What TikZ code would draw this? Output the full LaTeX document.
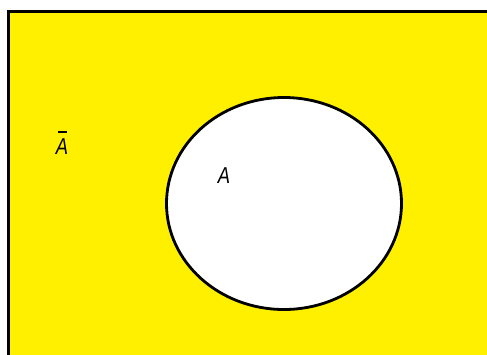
\documentclass[tikz,border=0pt]{standalone}
\usepackage{fontspec}
\setmainfont{Liberation Sans}
\definecolor{vennyellow}{RGB}{255,240,0}
\tikzset{
  lbl/.style={inner sep=0pt, font=\fontsize{23}{27}\selectfont\itshape, xscale=0.8},
}
\begin{document}
\begin{tikzpicture}[x=1pt,y=-1pt]
  \useasboundingbox (0,0) rectangle (487,354);
  \clip (0,0) rectangle (487,354);
  \fill[white] (0,0) rectangle (487,354);
  \draw[line width=3.2pt, fill=vennyellow] (8.5,11.5) rectangle (520,380);
  \draw[line width=2.8pt, fill=white] (284,203.5) ellipse [x radius=117.5, y radius=106];
  \node[lbl] (a) at (224,176) {A};
  \node[lbl] (abar) at (62,147) {A};
  \draw[line width=1.8pt] ([xshift=-4pt,yshift=15pt]abar.center) coordinate (b1) -- ([xshift=5pt,yshift=15pt]abar.center) coordinate (b2);
\end{tikzpicture}
\end{document}
